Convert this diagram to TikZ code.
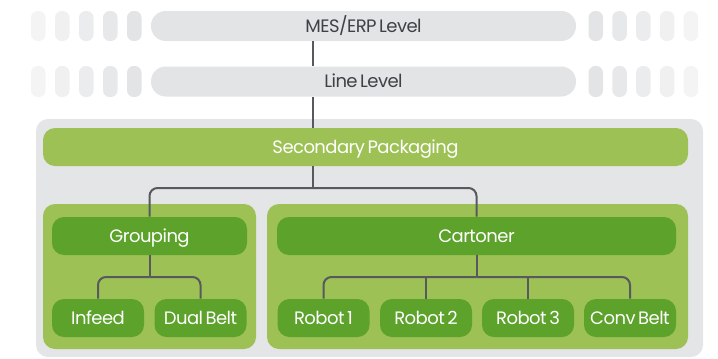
\documentclass[tikz,border=0pt]{standalone}
\usepackage{fontspec}
\setmainfont[LetterSpace=-3,WordSpace=0.6]{Poppins}
\usepackage{tikz}

\definecolor{barGrey}{HTML}{E3E4E6}
\definecolor{boxGrey}{HTML}{E4E5E7}
\definecolor{lightGreen}{HTML}{9DC155}
\definecolor{darkGreen}{HTML}{5CA22B}
\definecolor{linkGrey}{HTML}{56595D}
\definecolor{textGrey}{HTML}{3F4145}

\tikzset{
	label/.style={inner sep=0pt, text height=9.3pt, text depth=0pt, font=\fontsize{13.5}{15}\selectfont},
	levelbar/.style={label, fill=barGrey, rounded corners=11pt,
		minimum width=318.75pt, minimum height=22.5pt, text=textGrey},
	secbar/.style={label, fill=lightGreen, rounded corners=9pt,
		minimum width=483.75pt, minimum height=28.5pt, text=white},
	unit/.style={label, fill=darkGreen, rounded corners=9pt,
		minimum height=28.5pt, text=white},
	machine/.style={unit, minimum width=69pt},
	link/.style={draw=linkGrey, line width=1.5pt},
}

\begin{document}
\begin{tikzpicture}[x=0.75pt,y=-0.75pt]
	\useasboundingbox (0,0) rectangle (718,358);
	
	% fading pills beside the level bars
	\foreach \i/\c in {0/40,1/55,2/70,3/85,4/100}{
		\fill[barGrey!\c!white, rounded corners=5pt] ({31+24*\i},11) rectangle ++(14.5,30);
		\fill[barGrey!\c!white, rounded corners=5pt] ({31+24*\i},66) rectangle ++(14.5,31);
	}
	\foreach \i/\c in {0/100,1/85,2/70,3/55,4/40}{
		\fill[barGrey!\c!white, rounded corners=5pt] ({588.5+23.8*\i},11) rectangle ++(14.5,30);
		\fill[barGrey!\c!white, rounded corners=5pt] ({588.5+23.8*\i},66) rectangle ++(14.5,31);
	}
	
	% panels
	\fill[boxGrey, rounded corners=9pt] (36,119) rectangle (703,357);
	\fill[lightGreen, rounded corners=9pt] (43,204) rectangle (256,349);
	\fill[lightGreen, rounded corners=9pt] (267,204) rectangle (688,349);
	
	\node[levelbar] (mes)  at (363.5,26)  {MES/ERP Level};
	\node[levelbar] (line) at (363.5,81.5) {Line Level};
	\node[secbar]   (sec)  at (365.5,147) {Secondary Packaging};
	\node[unit, minimum width=146.25pt] (grp)  at (149.5,236) {Grouping};
	\node[unit, minimum width=299.25pt] (cart) at (476.5,236) {Cartoner};
	\node[machine] (inf)  at (98,318)    {Infeed};
	\node[machine] (dual) at (200.5,318) {Dual Belt};
	\node[machine] (rob1) at (323.5,318) {Robot 1};
	\node[machine] (rob2) at (426,318)   {Robot 2};
	\node[machine] (rob3) at (528,318)   {Robot 3};
	\node[machine] (conv) at (630,318)   {Conv Belt};
	
	\coordinate (spine) at (313,0);
	\coordinate (jSec)  at (313,188);
	\coordinate (jGrp)  at (149.5,277);
	\coordinate (jCart) at (476.5,277);
	
	\draw[link] (mes.south -| spine)--(line.north -| spine);		%mes--line
	\draw[link] (line.south -| spine)--(sec.north -| spine);		%line--secondary
	\draw[link] (sec.south -| spine)--(jSec);						%secondary--split
	\draw[link,rounded corners=6pt] (jSec) -| (grp.north);			%split--grouping
	\draw[link,rounded corners=6pt] (jSec) -| (cart.north);			%split--cartoner
	%
	\draw[link] (grp.south)--(jGrp);								%grouping--split
	\draw[link,rounded corners=6pt] (jGrp) -| (inf.north);			%split--infeed
	\draw[link,rounded corners=6pt] (jGrp) -| (dual.north);			%split--dual belt
	\draw[link] (cart.south)--(jCart);								%cartoner--split
	\draw[link,rounded corners=6pt] (jCart) -| (rob1.north);		%split--robot 1
	\draw[link] (rob2.north |- jCart)--(rob2.north);				%split--robot 2
	\draw[link] (rob3.north |- jCart)--(rob3.north);				%split--robot 3
	\draw[link,rounded corners=6pt] (jCart) -| (conv.north);		%split--conv belt
\end{tikzpicture}
\end{document}
